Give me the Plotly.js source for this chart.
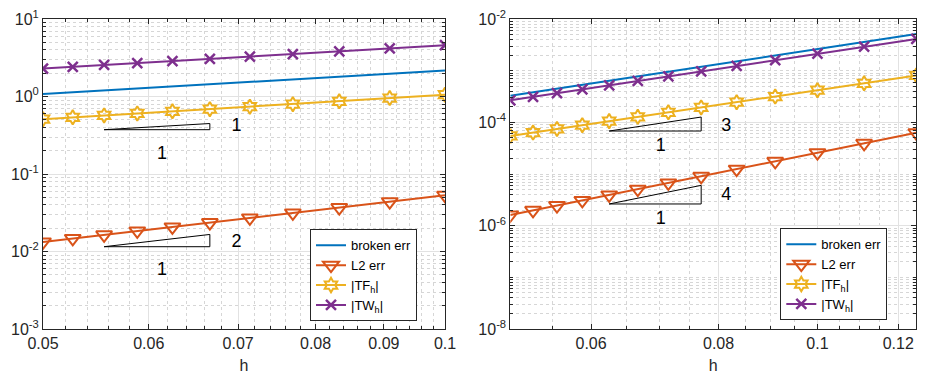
<!DOCTYPE html>
<html><head><meta charset="utf-8">
<script src="https://cdn.plot.ly/plotly-3.0.1.min.js"></script>
<style>html,body{margin:0;padding:0;background:#fff}#chart{width:932px;height:376px}</style>
</head><body><div id="chart"></div>
<script>
// ---------- data ----------
const hLeft  = [1/20,1/19,1/18,1/17,1/16,1/15,1/14,1/13,1/12,1/11,1/10];
const brokenLeft = [1.08,1.137,1.20,1.271,1.35,1.44,1.543,1.662,1.80,1.964,2.16];
const l2Left     = [0.0133,0.01474,0.01642,0.01841,0.02078,0.02364,0.02714,0.03148,0.03694,0.04397,0.0532];
const tfLeft     = [0.510,0.538,0.569,0.604,0.643,0.687,0.738,0.797,0.867,0.956,1.055];
const twLeft     = [2.29,2.41,2.55,2.70,2.87,3.06,3.28,3.53,3.83,4.18,4.60];

const hRight = [1/20,1/19,1/18,1/17,1/16,1/15,1/14,1/13,1/12,1/11,1/10,1/9,1/8];
const brokenRight = [3.28e-4,3.83e-4,4.50e-4,5.34e-4,6.41e-4,7.77e-4,9.56e-4,1.194e-3,1.519e-3,1.971e-3,2.624e-3,3.60e-3,5.10e-3];
const l2Right     = [1.61e-6,1.98e-6,2.45e-6,3.08e-6,3.93e-6,5.09e-6,6.71e-6,9.02e-6,1.242e-5,1.76e-5,2.58e-5,3.93e-5,6.29e-5];
const tfRight     = [5.45e-5,6.34e-5,7.45e-5,8.82e-5,1.055e-4,1.276e-4,1.562e-4,1.94e-4,2.45e-4,3.16e-4,4.18e-4,5.69e-4,8.10e-4];
const twRight     = [2.67e-4,3.11e-4,3.66e-4,4.35e-4,5.21e-4,6.33e-4,7.78e-4,9.72e-4,1.236e-3,1.605e-3,2.136e-3,2.93e-3,4.12e-3];

const seriesNames = ['broken err','L2 err','|TF<sub>h</sub>|','|TW<sub>h</sub>|'];

// slope triangles: [x0, x1], [yBottom, yTop], labels
const triLeft1 = {x:[1/18,1/15], y:[0.373,0.448], lab:'1', labXY:[0.0698,0.407], runXY:[0.0614,0.181]};
const triLeft2 = {x:[1/18,1/15], y:[0.01153,0.0166], lab:'2', labXY:[0.0698,0.01315], runXY:[0.0614,0.00577]};
const triRight3 = {x:[1/16,1/13], y:[6.79e-5,1.266e-4], lab:'3', labXY:[0.0814,8.49e-5], runXY:[0.0702,3.38e-5]};
const triRight4 = {x:[1/16,1/13], y:[2.63e-6,6.03e-6], lab:'4', labXY:[0.0814,3.80e-6], runXY:[0.0702,1.29e-6]};

const xTicksLeft = [0.05,0.06,0.07,0.08,0.09,0.1];
const xTickTextLeft = ['0.05','0.06','0.07','0.08','0.09','0.1'];
const xTicksRight = [0.06,0.08,0.1,0.12];
const xTickTextRight = ['0.06','0.08','0.1','0.12'];
const yTicksLeft = [1e-3,1e-2,1e-1,1,10];
const yTickTextLeft = ['10<sup>-3</sup>','10<sup>-2</sup>','10<sup>-1</sup>','10<sup>0</sup>','10<sup>1</sup>'];
const yTicksRight = [1e-8,1e-6,1e-4,1e-2];
const yTickTextRight = ['10<sup>-8</sup>','10<sup>-6</sup>','10<sup>-4</sup>','10<sup>-2</sup>'];

// ---------- styling ----------
const C = {blue:'#0072BD', orange:'#D95319', yellow:'#EDB120', purple:'#7E2F8E'};
const FONT = 'Liberation Sans, Arial, Helvetica, sans-serif';

function minorLog(d0, d1, majors){
  const v=[];
  for(let d=d0; d<d1; d++) for(let k=1;k<=9;k++){
    const val = k*Math.pow(10,d);
    if(!majors.some(m=>Math.abs(m-val)/val<1e-9)) v.push(val);
  }
  return v;
}
function minorLin(a,b,step,majors){
  const v=[]; const n=Math.round((b-a)/step);
  for(let i=0;i<=n;i++){const val=+(a+i*step).toFixed(6); if(!majors.some(m=>Math.abs(m-val)<1e-9)) v.push(val);}
  return v;
}

function makeTraces(h, broken, l2, tf, tw, xa, ya, leg){
  const common = {xaxis:xa, yaxis:ya, legend:leg, mode:'lines+markers', hoverinfo:'skip'};
  return [
    Object.assign({}, common, {x:h, y:broken, name:seriesNames[0], mode:'lines', line:{color:C.blue,width:2}}),
    Object.assign({}, common, {x:h, y:l2, name:seriesNames[1], line:{color:C.orange,width:2},
      marker:{symbol:'triangle-down-open', size:14, color:C.orange, line:{width:2,color:C.orange}}}),
    Object.assign({}, common, {x:h, y:tf, name:seriesNames[2], line:{color:C.yellow,width:2},
      marker:{symbol:'hexagram-open', size:11, color:C.yellow, line:{width:2,color:C.yellow}}}),
    Object.assign({}, common, {x:h, y:tw, name:seriesNames[3], line:{color:C.purple,width:2},
      marker:{symbol:'x-thin-open', size:10, color:C.purple, line:{width:2.5,color:C.purple}}})
  ];
}
function triTraces(t, xa, ya){
  return [
    {x:[t.x[0],t.x[1],t.x[1],t.x[0]], y:[t.y[0],t.y[0],t.y[1],t.y[0]], xaxis:xa, yaxis:ya, mode:'lines',
     line:{color:'#000',width:1}, showlegend:false, hoverinfo:'skip'},
    {x:[t.labXY[0],t.runXY[0]], y:[t.labXY[1],t.runXY[1]], text:[t.lab,'1'], xaxis:xa, yaxis:ya, mode:'text',
     textposition:'middle center', textfont:{family:FONT,size:18,color:'#000'}, showlegend:false, hoverinfo:'skip'}
  ];
}

const traces = [].concat(
  makeTraces(hLeft, brokenLeft, l2Left, tfLeft, twLeft, 'x', 'y', 'legend'),
  makeTraces(hRight, brokenRight, l2Right, tfRight, twRight, 'x2', 'y2', 'legend2'),
  triTraces(triLeft1,'x','y'), triTraces(triLeft2,'x','y'),
  triTraces(triRight3,'x2','y2'), triTraces(triRight4,'x2','y2')
);

const axCommon = {
  type:'log', showline:true, linecolor:'#262626', linewidth:1, mirror:'ticks',
  ticks:'inside', ticklen:5, tickcolor:'#262626', tickwidth:1,
  showgrid:true, gridcolor:'#e2e2e2', gridwidth:1, zeroline:false,
  tickfont:{family:FONT,size:16,color:'#262626'}, tickmode:'array', automargin:false
};
function ax(extra){ return Object.assign({}, axCommon, extra); }
const minorStyle = {ticks:'inside', ticklen:3, tickcolor:'#262626', showgrid:true, gridcolor:'#d6d6d6', griddash:'dot', gridwidth:1, tickmode:'array'};

const xTitle = {text:'h', font:{family:FONT,size:16,color:'#262626'}, standoff:8};

const layout = {
  width:932, height:376, margin:{l:0,r:0,t:0,b:0},
  paper_bgcolor:'#fff', plot_bgcolor:'#fff', showlegend:true,
  xaxis: ax({domain:[43/932,445/932], range:[Math.log10(0.05),Math.log10(0.1)], anchor:'y',
    tickvals:xTicksLeft, ticktext:xTickTextLeft, title:xTitle,
    minor:Object.assign({}, minorStyle, {tickvals:minorLin(0.05,0.1,0.002,xTicksLeft)})}),
  yaxis: ax({domain:[47/376,357/376], range:[-3,1], anchor:'x',
    tickvals:yTicksLeft, ticktext:yTickTextLeft,
    minor:Object.assign({}, minorStyle, {tickvals:minorLog(-3,1,yTicksLeft)})}),
  xaxis2: ax({domain:[510.3/932,916.3/932], range:[Math.log10(0.05),Math.log10(0.125)], anchor:'y2',
    tickvals:xTicksRight, ticktext:xTickTextRight, title:xTitle,
    minor:Object.assign({}, minorStyle, {tickvals:minorLin(0.05,0.125,0.005,xTicksRight)})}),
  yaxis2: ax({domain:[47/376,357/376], range:[-8,-2], anchor:'x2',
    tickvals:yTicksRight, ticktext:yTickTextRight,
    minor:Object.assign({}, minorStyle, {tickvals:minorLog(-8,-2,yTicksRight)})}),
  legend: {x:310/932, y:(376-229.3)/376, xanchor:'left', yanchor:'top', bgcolor:'#fff',
    bordercolor:'#262626', borderwidth:1, font:{family:FONT,size:13,color:'#000'}, tracegroupgap:0},
  legend2: {x:780.3/932, y:(376-228.3)/376, xanchor:'left', yanchor:'top', bgcolor:'#fff',
    bordercolor:'#262626', borderwidth:1, font:{family:FONT,size:13,color:'#000'}, tracegroupgap:0}
};

Plotly.newPlot('chart', traces, layout, {staticPlot:true, displayModeBar:false});
</script></body></html>
